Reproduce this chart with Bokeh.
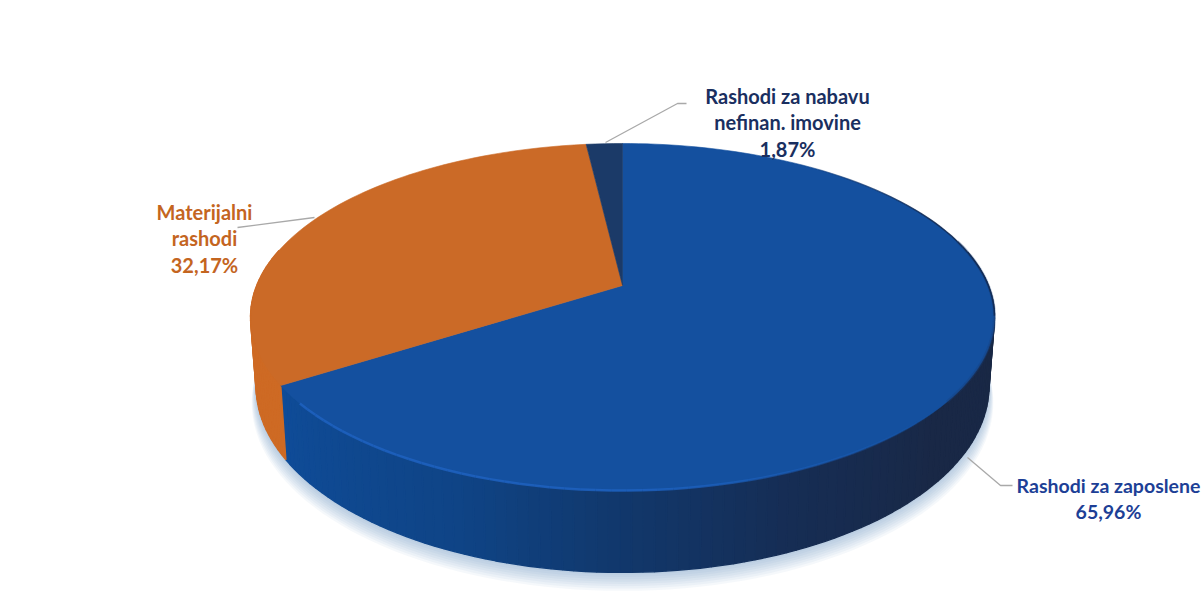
import math
from bokeh.plotting import figure
from bokeh.models import Range1d, ColumnDataSource
from bokeh.core.properties import value
from bokeh.embed import file_html
from bokeh.resources import INLINE

# ---- data ----
categories = ["Rashodi za zaposlene", "Materijalni rashodi", "Rashodi za nabavu nefinan. imovine"]
shares = [65.96, 32.17, 1.87]
share_labels = ["65,96%", "32,17%", "1,87%"]
label_lines = [["Rashodi za zaposlene"], ["Materijalni", "rashodi"], ["Rashodi za nabavu", "nefinan. imovine"]]
face_colors = ["#14509f", "#cb6a27", "#1b3a68"]
text_colors = ["#1d3f96", "#c4651f", "#1a2f60"]

# ---- geometry of the tilted disc (pixels of the page) ----
CX, CY = 622, 285        # image of the disc centre
K = 0.1816               # perspective
A, B = 365.8, 167.8      # horizontal / vertical scale
DEPTH = 67               # thickness
LOWER = 0.985            # lower rim is a little narrower


def rim(deg, lower=False, extra=0.0, grow=1.0):
    t = math.radians(deg)
    X, Y = math.sin(t), math.cos(t)
    w = 1 + K * Y
    s = (LOWER if lower else 1.0) * grow
    x = CX + s * A * X / w
    y = CY - B * Y / w * grow
    if lower:
        y += DEPTH / w
    return x, y + extra


def lerp_color(stops, f):
    for (f0, c0), (f1, c1) in zip(stops, stops[1:]):
        if f <= f1:
            u = max(0.0, (f - f0) / (f1 - f0))
            return "#%02x%02x%02x" % tuple(round(a + (b - a) * u) for a, b in zip(c0, c1))
    return "#%02x%02x%02x" % stops[-1][1]


p = figure(width=1204, height=609, output_backend="svg", toolbar_location=None,
           x_range=Range1d(0, 1204), y_range=Range1d(609, 0), min_border=0)
p.axis.visible = False
p.grid.visible = False
p.outline_line_color = None
p.background_fill_color = "#ffffff"
p.border_fill_color = "#ffffff"

# ---- soft shadow under the disc ----
degs = [i * 2 for i in range(181)]
for k in range(8, 0, -1):
    pts = [rim(d, lower=True, extra=k * 2.0, grow=1 + k * 0.0015) for d in degs]
    p.patch([q[0] for q in pts], [q[1] for q in pts], fill_color="#4f78b4", fill_alpha=0.055, line_color=None)

# ---- side wall: one quad per small arc step, shaded along the arc ----
bounds = [0.0]
for s in shares:
    bounds.append(bounds[-1] + s * 3.6)

blue_stops = [(0.0, (15, 76, 152)), (0.2, (15, 68, 134)), (0.32, (17, 56, 108)),
              (0.45, (22, 45, 84)), (0.6, (25, 40, 70)), (1.0, (24, 40, 68))]
orange_stops = [(0.0, (200, 100, 30)), (1.0, (212, 112, 42))]

xs, ys, cols = [], [], []
STEP = 1.5
for seg, (a0, a1) in enumerate(zip(bounds, bounds[1:])):
    n = max(1, int((a1 - a0) / STEP))
    for i in range(n):
        d0 = a0 + (a1 - a0) * i / n
        d1 = a0 + (a1 - a0) * (i + 1) / n
        if math.cos(math.radians(d0)) > 0.2 and math.cos(math.radians(d1)) > 0.2:
            continue
        u0, u1 = rim(d0), rim(d1)
        l0, l1 = rim(d0, True), rim(d1, True)
        xs.append([u0[0], u1[0], l1[0], l0[0]])
        ys.append([u0[1], u1[1], l1[1], l0[1]])
        if seg == 0:
            f = (a1 - (d0 + d1) / 2) / (a1 - 60)
            f = min(1.0, max(0.0, f))
            cols.append(lerp_color(blue_stops, f))
        elif seg == 1:
            cols.append(lerp_color(orange_stops, 0.5))
        else:
            cols.append(face_colors[2])
p.patches(xs, ys, fill_color=cols, line_color=cols, line_width=1.4)

# ---- top face ----
xs, ys = [], []
for a0, a1 in zip(bounds, bounds[1:]):
    n = max(3, int((a1 - a0) / 1.5))
    pts = [rim(a0 + (a1 - a0) * i / n) for i in range(n + 1)]
    xs.append([CX] + [q[0] for q in pts])
    ys.append([CY] + [q[1] for q in pts])
p.patches(xs, ys, fill_color=face_colors, line_color=face_colors, line_width=0.6)

# ---- bevel of the rim: lighter at the front-left, dark hairline on the right ----
hx, hy, ha, hw, hc = [], [], [], [], []
d = bounds[1] - 6
while d > 130:
    q0, q1 = rim(d), rim(d - 2)
    hx.append([q0[0], q1[0]])
    hy.append([q0[1], q1[1]])
    ha.append(max(0.0, min(0.8, (d - 130) / 60)))
    hw.append(2.5)
    hc.append("#1f63c2")
    d -= 2
d = 128
while d > 75:
    q0, q1 = rim(d), rim(d - 2)
    hx.append([q0[0], q1[0]])
    hy.append([q0[1], q1[1]])
    ha.append(0.35)
    hw.append(3)
    hc.append("#1a3f78")
    d -= 2
d = 30
while d < 100:
    q0, q1 = rim(d), rim(d + 2)
    hx.append([q0[0], q1[0]])
    hy.append([q0[1], q1[1]])
    ha.append(min(0.85, (d - 30) / 40))
    hw.append(1.5)
    hc.append("#12284f")
    d += 2
p.multi_line(hx, hy, line_color=hc, line_alpha=ha, line_width=hw)

# ---- leader lines ----
leader_x = [[967, 1000, 1012], [237, 314], [605, 677, 686]]
leader_y = [[457, 485, 485], [227, 217], [142, 103, 103]]
p.multi_line(leader_x, leader_y, line_color="#a9a9a9", line_width=1.3)

# ---- labels ----
label_x = [1108, 204, 787]
label_y = [485, 211, 95]
LINE = [26, 26.5, 26.5]
SIZES = ["19.5px", "20px", "20px"]
FONT = "Lato"
for i, lines in enumerate(label_lines):
    texts = lines + [share_labels[i]]
    src = ColumnDataSource(dict(x=[label_x[i]] * len(texts),
                                y=[label_y[i] + LINE[i] * j for j in range(len(texts))],
                                t=texts))
    p.text("x", "y", text="t", source=src, text_align="center", text_baseline="alphabetic",
           text_font=value(FONT), text_font_style="bold", text_font_size=SIZES[i],
           text_color=text_colors[i])

open("out.html", "w").write(file_html(p, INLINE))
